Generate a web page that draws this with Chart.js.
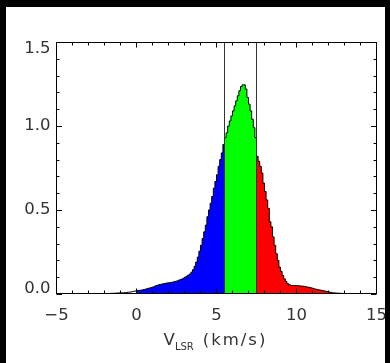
<!DOCTYPE html>
<html><head><meta charset="utf-8">
<script src="https://cdn.jsdelivr.net/npm/chart.js@4/dist/chart.umd.min.js"></script>
<style>
html,body{margin:0;padding:0;background:#000;width:390px;height:363px;overflow:hidden}
#wrap{position:absolute;left:6px;top:7px;width:379px;height:356px;background:#fff;overflow:hidden}
canvas{display:block}
</style></head><body>
<div id="wrap"><canvas id="c" width="379" height="356"></canvas></div>
<script>
// ---- data (bin left edges in km/s, intensity per bin) ----
const velocity = [
 -2.2,-2.1,-2.0,-1.9,-1.8,-1.7,-1.6,-1.5,-1.4,-1.3,-1.2,-1.1,-1.0,-0.9,-0.8,-0.7,-0.6,-0.5,-0.4,-0.3,-0.2,-0.1,
 0.0,0.1,0.2,0.3,0.4,0.5,0.6,0.7,0.8,0.9,
 1.0,1.1,1.2,1.3,1.4,1.5,1.6,1.7,1.8,1.9,
 2.0,2.1,2.2,2.3,2.4,2.5,2.6,2.7,2.8,2.9,
 3.0,3.1,3.2,3.3,3.4,3.5,3.6,3.7,3.8,3.9,
 4.0,4.1,4.2,4.3,4.4,4.5,4.6,4.7,4.8,4.9,
 5.0,5.1,5.2,5.3,5.4,5.5,5.6,5.7,5.8,5.9,
 6.0,6.1,6.2,6.3,6.4,6.5,6.6,6.7,6.8,6.9,
 7.0,7.1,7.2,7.3,7.4,7.5,7.6,7.7,7.8,7.9,
 8.0,8.1,8.2,8.3,8.4,8.5,8.6,8.7,8.8,8.9,
 9.0,9.1,9.2,9.3,9.4,9.5,9.6,9.7,9.8,9.9,
 10.0,10.1,10.2,10.3,10.4,10.5,10.6,10.7,10.8,10.9,
 11.0,11.1,11.2,11.3,11.4,11.5,11.6,11.7,11.8,11.9,
 12.0,12.1,12.2,12.3,12.4,12.5,12.6,12.7,12.8,12.9,
 13.0,13.1,13.2
];
const intensity = [
 0,0.002,0.002,0.003,0.003,0.003,0.004,0.004,0.005,0.005,0.006,0.006,0.007,0.007,0.008,0.009,0.010,0.011,0.012,0.014,0.016,0.018,
 0.020,0.021,0.022,0.024,0.026,0.028,0.031,0.034,0.036,0.039,
 0.042,0.046,0.050,0.053,0.056,0.058,0.060,0.062,0.064,0.066,
 0.067,0.068,0.070,0.073,0.075,0.078,0.082,0.085,0.089,0.094,
 0.100,0.106,0.112,0.119,0.130,0.145,0.165,0.190,0.220,0.255,
 0.29,0.33,0.37,0.41,0.46,0.50,0.54,0.58,0.63,0.67,
 0.71,0.76,0.80,0.84,0.89,0.93,0.96,1.00,1.03,1.06,
 1.09,1.12,1.15,1.18,1.21,1.235,1.245,1.245,1.22,1.17,
 1.13,1.09,1.04,0.99,0.93,0.82,0.79,0.76,0.72,0.66,
 0.61,0.56,0.51,0.43,0.40,0.34,0.29,0.24,0.20,0.16,
 0.135,0.11,0.09,0.075,0.062,0.055,0.052,0.051,0.050,0.050,
 0.050,0.049,0.048,0.047,0.046,0.044,0.042,0.040,0.038,0.036,
 0.033,0.030,0.028,0.026,0.024,0.022,0.020,0.018,0.016,0.014,
 0.012,0.010,0.008,0.007,0.006,0.005,0.005,0.004,0.004,0.003,
 0.002,0.001,0
];
const bandFrom = [0, 5.5, 7.5];
const bandTo = [5.5, 7.5, 12.2];
const cutVelocities = [5.5, 7.5];
const xRange = [-5, 15];
const yRange = [0, 1.5];
const xTickStep = 5, xMinorStep = 1;
const yTickStep = 0.5, yMinorStep = 0.1;

// ---- styles ----
const bandColors = ['#0000ff', '#00ff00', '#ff0000'];
const FONT = 'DejaVu Sans';
const TXT = '#333';

const points = velocity.map((v, i) => ({x: v, y: intensity[i]}));
const datasets = [];
cutVelocities.forEach(c => datasets.push({
  data: [{x: c, y: yRange[0]}, {x: c, y: yRange[1]}],
  borderColor: '#333', borderWidth: 1, pointRadius: 0, fill: false, order: 1
}));
datasets.push({
  data: points, stepped: true, borderColor: '#000', borderWidth: 1,
  pointRadius: 0, fill: false, order: 2
});
bandFrom.forEach((f, k) => datasets.push({
  data: points.filter(p => p.x >= f - 1e-9 && p.x <= bandTo[k] + 1e-9),
  stepped: true, borderWidth: 0, borderColor: 'rgba(0,0,0,0)',
  backgroundColor: bandColors[k], pointRadius: 0, fill: 'origin', order: 3
}));

const frame = {
  id: 'frame',
  afterDatasetsDraw(chart) {
    const {ctx, chartArea: a, scales: {x, y}} = chart;
    const L = Math.floor(a.left) + 0.5, R = Math.floor(a.right) + 0.5;
    const T = Math.round(a.top) + 0.5, B = Math.round(a.bottom) - 0.5;
    ctx.save();
    ctx.strokeStyle = '#000'; ctx.lineWidth = 1;
    ctx.beginPath();
    const nx = Math.round((x.max - x.min) / xMinorStep);
    for (let i = 0; i <= nx; i++) {
      const v = x.min + i * xMinorStep;
      const px = Math.floor(x.getPixelForValue(v)) + 0.5;
      const major = Math.abs(v / xTickStep - Math.round(v / xTickStep)) < 1e-6;
      const len = major ? 5 : 3;
      ctx.moveTo(px, B); ctx.lineTo(px, B - len);
      ctx.moveTo(px, T); ctx.lineTo(px, T + len);
    }
    const ny = Math.round((y.max - y.min) / yMinorStep);
    for (let i = 0; i <= ny; i++) {
      const v = y.min + i * yMinorStep;
      const py = Math.round(y.getPixelForValue(v)) + 0.5;
      const major = Math.abs(v / yTickStep - Math.round(v / yTickStep)) < 1e-6;
      const len = major ? 5.5 : 3;
      ctx.moveTo(L, py); ctx.lineTo(L + len, py);
      ctx.moveTo(R, py); ctx.lineTo(R - len, py);
    }
    ctx.stroke();
    ctx.strokeRect(L, T, R - L, B - T);
    ctx.restore();
  },
  afterDraw(chart) {
    const {ctx, chartArea: a} = chart;
    ctx.save();
    ctx.fillStyle = TXT;
    ctx.textBaseline = 'alphabetic';
    ctx.textAlign = 'left';
    const big = '16.5px "' + FONT + '"', small = '10px "' + FONT + '"';
    const p1 = 'V', p2 = 'LSR', p3 = '(km/s)';
    ctx.font = big; const w1 = ctx.measureText(p1).width;
    ctx.font = small; const w2 = ctx.measureText(p2).width;
    ctx.font = big; ctx.letterSpacing = '2px'; const w3 = ctx.measureText(p3).width;
    const gap = 9;
    const total = w1 + w2 + gap + w3;
    let cx = (a.left + a.right) / 2 - 1 - total / 2;
    const base = 338;
    ctx.letterSpacing = '0px';
    ctx.font = big; ctx.fillText(p1, cx, base); cx += w1;
    ctx.font = small; ctx.fillText(p2, cx, base + 5); cx += w2 + gap;
    ctx.font = big; ctx.letterSpacing = '2px'; ctx.fillText(p3, cx, base);
    ctx.restore();
  }
};

new Chart(document.getElementById('c'), {
  type: 'line',
  data: {datasets},
  options: {
    responsive: false, animation: false, devicePixelRatio: 1,
    layout: {padding: {top: 35, right: 8.5, left: 0, bottom: 0}},
    plugins: {legend: {display: false}, tooltip: {enabled: false}},
    elements: {line: {tension: 0}},
    scales: {
      x: {
        type: 'linear', min: xRange[0], max: xRange[1],
        grid: {display: false, drawTicks: false}, border: {display: false},
        ticks: {
          stepSize: xTickStep, padding: 12, color: TXT, maxRotation: 0,
          font: {family: FONT, size: 16.5},
          callback: v => (v < 0 ? '\u2212' + Math.abs(v) : String(v))
        },
        afterFit(s) { s.height = 69; s.paddingLeft = 0; s.paddingRight = 0; }
      },
      y: {
        type: 'linear', min: yRange[0], max: yRange[1],
        grid: {display: false, drawTicks: false}, border: {display: false},
        ticks: {
          stepSize: yTickStep, padding: 6, color: TXT,
          font: ctx => {
            const v = ctx.tick ? ctx.tick.value : 0.5;
            let lh = 1.2;
            if (Math.abs(v - yRange[1]) < 1e-6) lh = 0.85;
            if (Math.abs(v - yRange[0]) < 1e-6) lh = 0.65;
            return {family: FONT, size: 16.5, lineHeight: lh};
          },
          callback: v => {
            const s = Number(v).toFixed(1);
            if (Math.abs(v - yRange[1]) < 1e-6) return ['', s];
            if (Math.abs(v - yRange[0]) < 1e-6) return [s, ''];
            return s;
          }
        },
        afterFit(s) { s.width = 50.5; s.paddingTop = 0; s.paddingBottom = 0; }
      }
    }
  },
  plugins: [frame]
});
</script>
</body></html>
